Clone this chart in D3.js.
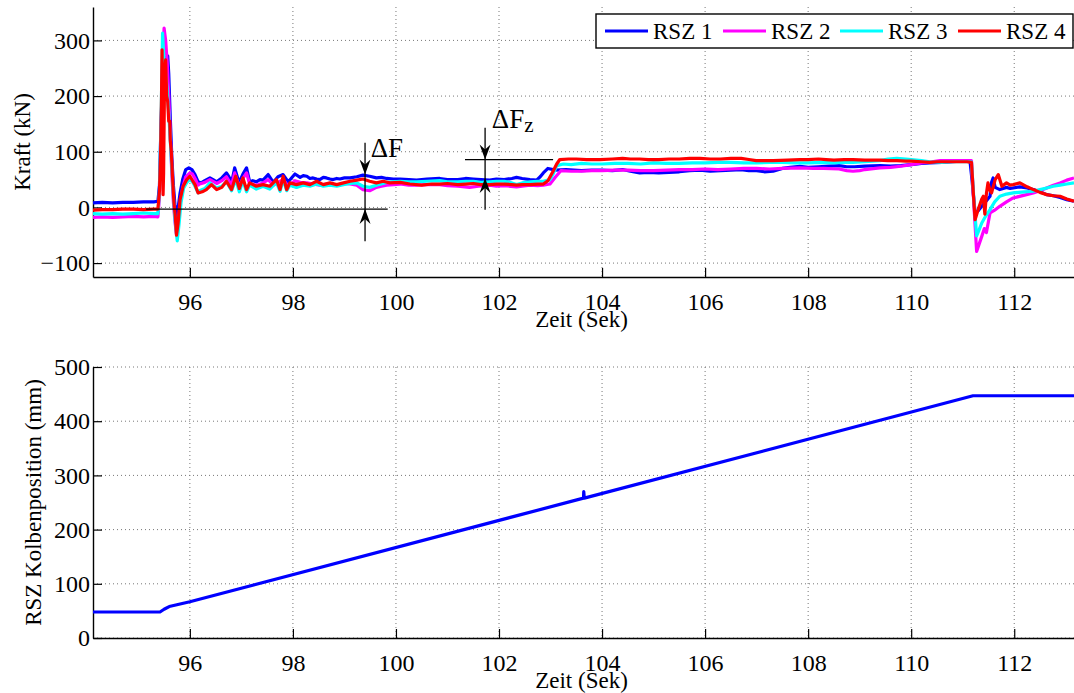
<!DOCTYPE html>
<html>
<head>
<meta charset="utf-8">
<script src="https://cdn.jsdelivr.net/npm/d3@7"></script>
<style>
  body { margin: 0; background: #fff; }
  svg { display: block; }
  svg text { font-family: "Liberation Serif", "Times New Roman", Times, "DejaVu Serif", serif !important; fill: #000; }
</style>
</head>
<body>
<svg id="chart" width="1074" height="693"></svg>
<script>
// legend / series
const seriesNames = ['RSZ 1', 'RSZ 2', 'RSZ 3', 'RSZ 4'];
const seriesColors = ['#0000ff', '#ff00ff', '#00ffff', '#ff0000'];

// Kraft (kN) over Zeit (Sek)
const rsz1 = [
  [94.12, 8], [94.3, 9], [94.5, 8], [94.7, 9], [94.9, 9], [95.1, 10], [95.3, 10], [95.38, 11],
  [95.41, 40], [95.44, 150], [95.47, 230], [95.50, 255], [95.53, 268], [95.57, 272], [95.59, 240],
  [95.62, 160], [95.65, 90], [95.68, 40], [95.71, 5], [95.74, -16], [95.78, 5], [95.81, 26],
  [95.86, 50], [95.92, 68], [95.98, 71], [96.04, 68], [96.10, 59], [96.16, 46], [96.22, 44],
  [96.29, 48], [96.39, 53], [96.45, 50], [96.52, 46], [96.62, 53], [96.71, 62], [96.76, 55],
  [96.81, 44], [96.87, 71], [96.93, 52], [96.97, 47], [97.03, 60], [97.10, 71], [97.16, 46],
  [97.22, 48], [97.29, 46], [97.36, 50], [97.42, 49], [97.52, 59], [97.62, 45], [97.71, 55],
  [97.81, 59], [97.91, 46], [98.04, 60], [98.14, 54], [98.20, 57], [98.27, 56], [98.33, 52],
  [98.39, 53], [98.46, 51], [98.52, 50], [98.59, 54], [98.65, 53], [98.72, 51], [98.78, 50],
  [98.85, 52], [98.91, 51], [99.0, 53], [99.11, 53], [99.24, 55], [99.36, 58], [99.49, 56],
  [99.62, 53], [99.72, 54], [99.82, 52], [99.95, 51], [100.08, 51], [100.25, 50], [100.4, 49],
  [100.6, 51], [100.85, 52], [101.0, 50], [101.2, 50], [101.35, 52], [101.5, 51], [101.65, 50],
  [101.82, 49], [101.95, 51], [102.1, 50], [102.25, 52], [102.34, 54], [102.45, 52], [102.6, 50],
  [102.73, 49], [102.80, 55], [102.86, 62], [102.95, 70], [103.1, 67], [103.3, 68], [103.45, 67],
  [103.6, 66], [103.8, 67], [104.0, 67], [104.2, 66], [104.4, 68], [104.55, 65], [104.73, 62],
  [104.9, 63], [105.1, 62], [105.3, 63], [105.5, 64], [105.7, 66], [105.9, 67], [106.1, 65],
  [106.3, 66], [106.5, 67], [106.7, 68], [106.85, 66], [107.0, 66], [107.15, 64], [107.32, 65],
  [107.5, 70], [107.65, 72], [107.84, 74], [108.0, 72], [108.2, 73], [108.4, 74], [108.6, 75],
  [108.75, 73], [108.9, 73], [109.1, 74], [109.4, 75], [109.6, 74], [109.8, 75], [110.0, 77],
  [110.2, 79], [110.36, 80], [110.6, 81], [110.8, 82], [110.95, 83], [111.08, 84], [111.14, 84],
  [111.18, 50], [111.24, -10], [111.30, -6], [111.37, 2], [111.46, 12], [111.53, 20], [111.56, 45],
  [111.59, 53], [111.63, 36], [111.72, 32], [111.85, 36], [111.92, 34], [112.11, 37], [112.25, 35],
  [112.37, 32], [112.5, 28], [112.63, 23], [112.76, 21], [112.89, 18], [113.02, 14], [113.16, 11]
];

const rsz2 = [
  [94.12, -18], [94.3, -17], [94.5, -18], [94.7, -17], [94.9, -16], [95.1, -17], [95.3, -16], [95.38, -17],
  [95.41, 20], [95.44, 120], [95.47, 260], [95.50, 322], [95.53, 300], [95.56, 260], [95.59, 200],
  [95.62, 130], [95.65, 60], [95.68, 10], [95.71, -25], [95.74, -48], [95.77, -30], [95.81, 5],
  [95.86, 35], [95.92, 55], [96.00, 62], [96.05, 60], [96.10, 52], [96.16, 40], [96.19, 42],
  [96.29, 45], [96.39, 50], [96.52, 43], [96.62, 48], [96.71, 55], [96.81, 40], [96.87, 62],
  [96.93, 45], [96.97, 40], [97.03, 52], [97.10, 62], [97.16, 42], [97.29, 40], [97.42, 44],
  [97.52, 50], [97.62, 40], [97.71, 45], [97.81, 50], [97.91, 38], [98.04, 48], [98.14, 45],
  [98.27, 44], [98.39, 42], [98.52, 40], [98.65, 42], [98.78, 40], [98.91, 41], [99.0, 43],
  [99.11, 42], [99.24, 40], [99.36, 32], [99.49, 30], [99.62, 36], [99.72, 38], [99.82, 40],
  [99.95, 41], [100.08, 42], [100.25, 40], [100.4, 40], [100.6, 41], [100.85, 41], [101.0, 39],
  [101.2, 38], [101.43, 36], [101.6, 38], [101.82, 40], [101.95, 38], [102.1, 39], [102.34, 37],
  [102.45, 38], [102.6, 40], [102.75, 39], [102.86, 40], [102.99, 42], [103.1, 55], [103.2, 66],
  [103.4, 65], [103.6, 65], [103.8, 66], [104.0, 66], [104.25, 67], [104.5, 67], [104.75, 66],
  [105.0, 66], [105.25, 67], [105.5, 68], [105.75, 68], [106.0, 69], [106.25, 68], [106.5, 69],
  [106.75, 70], [107.0, 70], [107.25, 69], [107.5, 70], [107.84, 71], [108.1, 70], [108.3, 70],
  [108.6, 69], [108.75, 66], [108.87, 65], [109.0, 66], [109.1, 68], [109.39, 71], [109.6, 72],
  [109.8, 74], [110.0, 77], [110.2, 80], [110.4, 82], [110.56, 84], [110.9, 84], [111.08, 84],
  [111.17, 84], [111.22, 0], [111.27, -79], [111.37, -52], [111.42, -38], [111.46, -45], [111.53, -10],
  [111.62, -5], [111.72, 2], [111.85, 10], [111.98, 17], [112.2, 22], [112.37, 26], [112.5, 30],
  [112.63, 35], [112.76, 40], [112.89, 44], [113.02, 49], [113.16, 53]
];

const rsz3 = [
  [94.12, -11], [94.3, -12], [94.5, -11], [94.7, -12], [94.9, -11], [95.1, -10], [95.3, -11], [95.38, -11],
  [95.41, 30], [95.44, 150], [95.47, 313], [95.50, 260], [95.53, 240], [95.56, 210], [95.59, 170],
  [95.62, 120], [95.65, 70], [95.68, 20], [95.71, -20], [95.755, -60], [95.79, -30], [95.83, 10],
  [95.88, 35], [95.94, 45], [96.00, 50], [96.05, 46], [96.10, 38], [96.16, 26], [96.19, 30],
  [96.29, 34], [96.39, 44], [96.52, 35], [96.62, 38], [96.71, 46], [96.81, 30], [96.89, 50],
  [96.96, 28], [97.03, 48], [97.10, 28], [97.16, 40], [97.29, 33], [97.42, 38], [97.55, 33],
  [97.68, 45], [97.75, 29], [97.81, 50], [97.88, 30], [97.94, 40], [98.07, 36], [98.20, 40],
  [98.33, 38], [98.46, 42], [98.59, 38], [98.72, 40], [98.85, 38], [98.98, 41], [99.11, 43],
  [99.24, 44], [99.36, 38], [99.49, 36], [99.62, 40], [99.82, 45], [100.08, 47], [100.25, 46],
  [100.4, 46], [100.6, 47], [100.85, 48], [101.0, 46], [101.2, 46], [101.35, 47], [101.5, 47],
  [101.65, 45], [101.82, 46], [101.95, 47], [102.1, 47], [102.25, 44], [102.34, 41], [102.45, 44],
  [102.6, 46], [102.75, 47], [102.86, 47], [102.99, 50], [103.05, 60], [103.12, 75], [103.25, 78],
  [103.4, 77], [103.6, 79], [103.8, 78], [104.0, 78], [104.25, 79], [104.5, 79], [104.75, 78],
  [105.0, 80], [105.25, 79], [105.5, 79], [105.75, 80], [106.0, 80], [106.25, 81], [106.5, 81],
  [106.75, 80], [107.0, 80], [107.25, 81], [107.5, 81], [107.75, 80], [108.0, 80], [108.25, 81],
  [108.5, 80], [108.7, 81], [108.87, 81], [109.1, 82], [109.39, 84], [109.55, 87], [109.72, 88],
  [109.9, 87], [110.0, 86], [110.2, 84], [110.36, 82], [110.6, 81], [110.8, 82], [111.08, 82],
  [111.17, 82], [111.22, 10], [111.27, -51], [111.32, -40], [111.37, -28], [111.45, -15], [111.53, -4],
  [111.62, 10], [111.72, 20], [111.85, 24], [111.98, 26], [112.2, 28], [112.37, 29], [112.5, 32],
  [112.63, 35], [112.76, 38], [112.89, 40], [113.02, 42], [113.16, 44]
];

const rsz4 = [
  [94.12, -5], [94.3, -4], [94.5, -4], [94.7, -3], [94.9, -3], [95.1, -4], [95.3, -3], [95.38, -3],
  [95.41, 30], [95.43, 90], [95.45, 200], [95.46, 283], [95.47, 200], [95.48, 23], [95.49, 60],
  [95.51, 240], [95.53, 265], [95.55, 200], [95.57, 190], [95.59, 155], [95.61, 155], [95.62, 120],
  [95.64, 100], [95.66, 60], [95.69, 10], [95.72, -20], [95.74, -50], [95.77, -30], [95.81, 14],
  [95.87, 38], [95.94, 50], [96.00, 56], [96.10, 41], [96.16, 26], [96.24, 28], [96.32, 32],
  [96.42, 41], [96.52, 32], [96.62, 36], [96.71, 47], [96.81, 32], [96.89, 56], [96.96, 34],
  [97.03, 53], [97.10, 32], [97.16, 44], [97.29, 38], [97.42, 41], [97.55, 38], [97.68, 50],
  [97.75, 32], [97.81, 56], [97.88, 32], [97.94, 44], [98.07, 41], [98.20, 44], [98.33, 41],
  [98.46, 47], [98.59, 41], [98.72, 44], [98.85, 41], [98.98, 44], [99.11, 47], [99.24, 49],
  [99.36, 51], [99.49, 47], [99.62, 44], [99.75, 47], [99.88, 44], [100.08, 45], [100.27, 42],
  [100.5, 40], [100.7, 42], [100.85, 42], [101.0, 43], [101.2, 41], [101.35, 42], [101.5, 43],
  [101.65, 41], [101.82, 41], [101.95, 42], [102.1, 42], [102.25, 41], [102.34, 40], [102.45, 41],
  [102.6, 41], [102.75, 42], [102.86, 42], [102.95, 48], [103.05, 65], [103.12, 78], [103.18, 86],
  [103.35, 87], [103.5, 87], [103.7, 86], [103.96, 86], [104.2, 87], [104.4, 88], [104.55, 87],
  [104.73, 87], [104.9, 86], [105.1, 86], [105.3, 87], [105.5, 87], [105.7, 88], [105.9, 88],
  [106.1, 87], [106.3, 87], [106.5, 88], [106.7, 88], [106.85, 86], [106.99, 84], [107.15, 84],
  [107.32, 84], [107.6, 85], [107.84, 86], [108.0, 86], [108.2, 87], [108.35, 86], [108.5, 85],
  [108.7, 86], [108.87, 86], [109.1, 85], [109.39, 85], [109.55, 84], [109.72, 84], [109.9, 83],
  [110.0, 83], [110.2, 82], [110.36, 81], [110.5, 82], [110.7, 82], [110.9, 82], [111.08, 82],
  [111.17, 81], [111.21, 20], [111.24, -22], [111.30, -4], [111.37, 15], [111.40, 20], [111.43, -12],
  [111.46, 25], [111.49, 44], [111.53, 30], [111.56, 26], [111.63, 50], [111.69, 59], [111.76, 38],
  [111.85, 44], [111.92, 40], [111.98, 41], [112.11, 44], [112.25, 37], [112.37, 32], [112.5, 27],
  [112.63, 23], [112.76, 21], [112.89, 20], [113.02, 15], [113.16, 11]
];

// RSZ Kolbenposition (mm)
const kolbenPos = [
  [94.12, 48], [95.42, 48], [95.5, 53], [95.6, 58], [96.0, 67], [103.64, 258],
  [103.645, 270], [103.655, 258], [111.2, 447], [113.16, 447]
];

const xTicks = [96, 98, 100, 102, 104, 106, 108, 110, 112];
const forceTicks = [-100, 0, 100, 200, 300];
const posTicks = [0, 100, 200, 300, 400, 500];

// ΔF / ΔFz markings, in data units
const zeroLine = [[95.15, -3], [99.84, -3]];
const dfLine = [[99.40, 116], [99.40, -61]];
const dfArrows = [[99.40, 59, 'down'], [99.40, -3, 'up']];
const dfzRefLine = [[101.34, 86], [103.05, 86]];
const dfzLine = [[101.73, 143], [101.73, -4]];
const dfzArrows = [[101.73, 86, 'down'], [101.73, 53, 'up']];
const dfLabels = [
  { t: 99.51, v: 91, text: 'ΔF', sub: '' },
  { t: 101.86, v: 143, text: 'ΔF', sub: 'z' }
];

const cfg = {
  left: 93, right: 1074,
  top1: 7, bottom1: 277,
  top2: 367, bottom2: 638,
  xDomain: [94.12, 113.16],
  forceDomain: [-125, 360],
  posDomain: [0, 500],
  tickFont: 24,
  labelFont: 23,
  serif: '"Liberation Serif", "Times New Roman", Times, "DejaVu Serif", serif'
};

const svg = d3.select('#chart');

const x = d3.scaleLinear().domain(cfg.xDomain).range([cfg.left, cfg.right]);
const yForce = d3.scaleLinear().domain(cfg.forceDomain).range([cfg.bottom1, cfg.top1]);
const yPos = d3.scaleLinear().domain(cfg.posDomain).range([cfg.bottom2, cfg.top2]);

function drawFrame(y, yTicks, y0, y1, yLabel, yLabelX) {
  const g = svg.append('g').attr('font-family', cfg.serif);

  // dotted grid
  g.append('g')
    .selectAll('line')
    .data(xTicks)
    .join('line')
    .attr('x1', d => x(d)).attr('x2', d => x(d))
    .attr('y1', y0).attr('y2', y1)
    .attr('stroke', '#777').attr('stroke-width', 1)
    .attr('stroke-dasharray', '1,3');
  g.append('g')
    .selectAll('line')
    .data(yTicks)
    .join('line')
    .attr('x1', cfg.left).attr('x2', cfg.right)
    .attr('y1', d => y(d)).attr('y2', d => y(d))
    .attr('stroke', '#777').attr('stroke-width', 1)
    .attr('stroke-dasharray', '1,3');

  // axes, ticks pointing inward
  const ax = g.append('g')
    .attr('transform', `translate(0,${y1})`)
    .call(d3.axisBottom(x).tickValues(xTicks).tickSize(-9).tickSizeOuter(0).tickPadding(16));
  const ay = g.append('g')
    .attr('transform', `translate(${cfg.left},0)`)
    .call(d3.axisLeft(y).tickValues(yTicks).tickSize(-9).tickSizeOuter(0).tickPadding(3));

  [ax, ay].forEach(a => {
    a.attr('font-family', cfg.serif).attr('font-size', cfg.tickFont);
    a.select('.domain').attr('stroke', '#000').attr('stroke-width', 1.4);
    a.selectAll('.tick line').attr('stroke', '#000').attr('stroke-width', 1.2);
    a.selectAll('.tick text').attr('fill', '#000');
  });

  g.append('text')
    .attr('x', (cfg.left + cfg.right) / 2 - 2)
    .attr('y', y1 + 50)
    .attr('text-anchor', 'middle')
    .attr('font-size', cfg.labelFont)
    .text('Zeit (Sek)');

  g.append('text')
    .attr('transform', `translate(${yLabelX},${(y0 + y1) / 2})rotate(-90)`)
    .attr('text-anchor', 'middle')
    .attr('font-size', cfg.labelFont)
    .text(yLabel);

  return g;
}

function drawSeries(g, data, y, color) {
  const line = d3.line().x(d => x(d[0])).y(d => y(d[1]));
  g.append('path')
    .datum(data)
    .attr('d', line)
    .attr('fill', 'none')
    .attr('stroke', color)
    .attr('stroke-width', 3.2)
    .attr('stroke-linejoin', 'round');
}

function drawArrowHead(g, t, v, dir) {
  // concave matlab-ish arrow head, tip at (0,0)
  g.append('path')
    .attr('d', 'M0,0L-5.5,-15L0,-10L5.5,-15Z')
    .attr('transform', `translate(${x(t)},${yForce(v)})rotate(${dir === 'up' ? 180 : 0})`)
    .attr('fill', '#000');
}

// ---- upper panel: Kraft ----
const forcePanel = drawFrame(yForce, forceTicks, cfg.top1, cfg.bottom1, 'Kraft (kN)', 30);
const forceSeries = [rsz1, rsz2, rsz3, rsz4];
forceSeries.forEach((s, i) => drawSeries(forcePanel, s, yForce, seriesColors[i]));

const annLine = d3.line().x(d => x(d[0])).y(d => yForce(d[1]));
[zeroLine, dfLine, dfzRefLine, dfzLine].forEach(l => {
  forcePanel.append('path')
    .datum(l)
    .attr('d', annLine)
    .attr('stroke', '#000')
    .attr('stroke-width', 1.3)
    .attr('fill', 'none');
});
dfArrows.concat(dfzArrows).forEach(a => drawArrowHead(forcePanel, a[0], a[1], a[2]));

dfLabels.forEach(l => {
  const txt = forcePanel.append('text')
    .attr('x', x(l.t))
    .attr('y', yForce(l.v))
    .attr('font-size', 27)
    .text(l.text);
  if (l.sub) {
    txt.append('tspan')
      .attr('dy', 4)
      .attr('font-size', 21)
      .text(l.sub);
  }
});

// legend
const legend = { x: 596, y: 14, w: 477, h: 34 };
const lg = svg.append('g').attr('font-family', cfg.serif);
lg.append('rect')
  .attr('x', legend.x).attr('y', legend.y)
  .attr('width', legend.w).attr('height', legend.h)
  .attr('fill', '#fff').attr('stroke', '#000').attr('stroke-width', 1.4);
const entryX = [605, 723, 840, 958];
seriesNames.forEach((name, i) => {
  lg.append('line')
    .attr('x1', entryX[i]).attr('x2', entryX[i] + 43)
    .attr('y1', legend.y + 17).attr('y2', legend.y + 17)
    .attr('stroke', seriesColors[i]).attr('stroke-width', 3);
  lg.append('text')
    .attr('x', entryX[i] + 48)
    .attr('y', legend.y + 25)
    .attr('font-size', cfg.labelFont)
    .text(name);
});

// ---- lower panel: Kolbenposition ----
const posPanel = drawFrame(yPos, posTicks, cfg.top2, cfg.bottom2, 'RSZ Kolbenposition (mm)', 41);
drawSeries(posPanel, kolbenPos, yPos, seriesColors[0]);
</script>
</body>
</html>
